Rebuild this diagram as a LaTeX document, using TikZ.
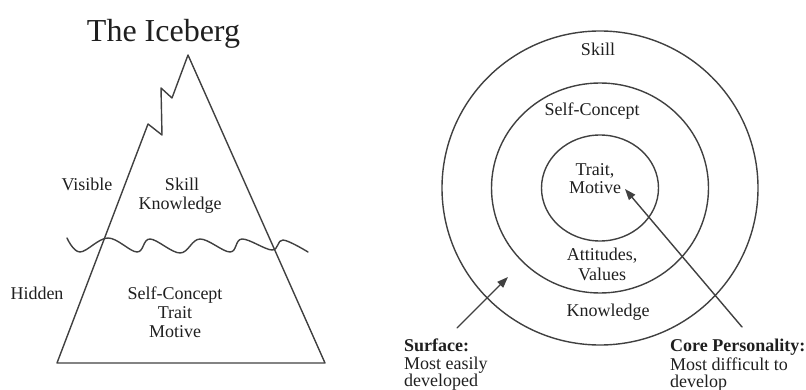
\documentclass[tikz,border=0pt]{standalone}
\usepackage{fontspec}
\setmainfont{Liberation Serif}
\usetikzlibrary{arrows.meta}

\begin{document}
\begin{tikzpicture}[x=1pt,y=-1pt,
  ink/.style={draw=black!75, line width=1.4pt, line join=round, line cap=round},
  lbl/.style={inner sep=0pt, anchor=base, text=black!88, font=\fontsize{18}{20}\selectfont},
  leftlbl/.style={lbl, anchor=base west},
  boldlbl/.style={leftlbl, font=\fontsize{18}{20}\selectfont\bfseries},
  pointer/.style={ink, -{Triangle[length=11pt,width=8pt]}}]

\useasboundingbox (0,0) rectangle (806,390);

% ---------- left: the iceberg ----------
\node[lbl, font=\fontsize{32}{34}\selectfont] (title) at (163.5,42) {The Iceberg};

% jagged peak and body of the iceberg
\draw[ink] (188,55) -- (172,98) -- (161,88) -- (162,135) -- (148,124)
  -- (57,363) -- (325,363) -- cycle;

% water line
\draw[ink] plot[smooth, tension=0.6] coordinates {(67,238) (80,252) (108,238)
  (137,252) (150,239) (180,253) (200,239) (230,252) (242,239) (272,250)
  (283,240) (308,252)};

\node[lbl] (visible) at (87,191) {Visible};
\node[lbl] (skillA) at (182,191) {Skill};
\node[lbl] (knowA) at (180,210) {Knowledge};
\node[lbl] (hidden) at (37,299) {Hidden};
\node[lbl] (selfA) at (175,299) {Self-Concept};
\node[lbl] (traitA) at (175,318) {Trait};
\node[lbl] (motiveA) at (175,337) {Motive};

% ---------- right: the concentric rings ----------
\draw[ink] (600,188) ellipse [x radius=158pt, y radius=157pt];
\draw[ink] (600,188) ellipse [x radius=108.5pt, y radius=105pt];
\draw[ink] (600,188) ellipse [x radius=58.5pt, y radius=53pt];

\node[lbl] (skillB) at (598,56) {Skill};
\node[lbl] (selfB) at (592,116) {Self-Concept};
\node[lbl] (traitB) at (595,176) {Trait,};
\node[lbl] (motiveB) at (595,194) {Motive};
\node[lbl] (attB) at (602,261) {Attitudes,};
\node[lbl] (valB) at (602,280) {Values};
\node[lbl] (knowB) at (608,316) {Knowledge};

\node[boldlbl] (surface) at (404,351) {Surface:};
\node[leftlbl] (easy) at (404,369) {Most easily};
\node[leftlbl] (devd) at (404,386) {developed};
\node[boldlbl] (core) at (670,351) {Core Personality:};
\node[leftlbl] (hard) at (670,370) {Most difficult to};
\node[leftlbl] (dev) at (670,387) {develop};

\coordinate (surfTail) at (457,328);
\coordinate (surfTip) at (508,277);
\coordinate (coreTail) at (742,327);
\coordinate (coreTip) at (625,189);
\draw[pointer] (surfTail) -- (surfTip);
\draw[pointer] (coreTail) -- (coreTip);

\end{tikzpicture}
\end{document}
